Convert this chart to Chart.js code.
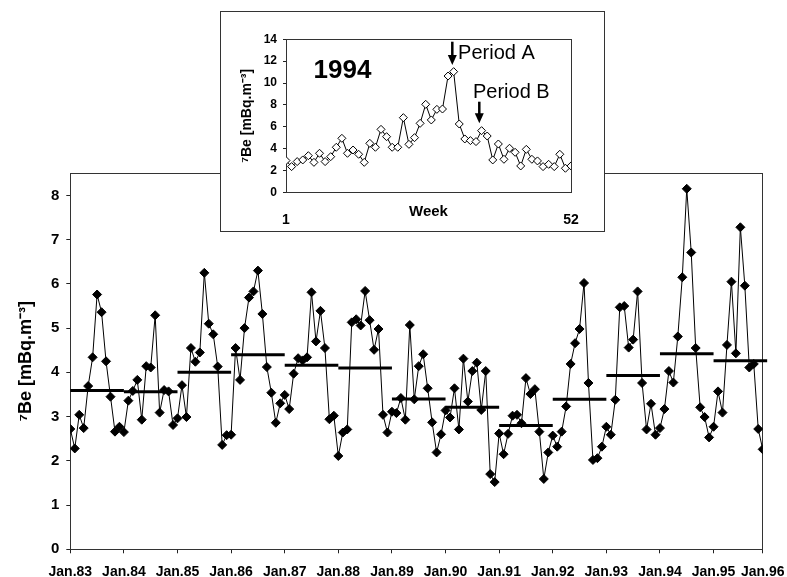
<!DOCTYPE html>
<html><head><meta charset="utf-8">
<script src="https://cdn.jsdelivr.net/npm/chart.js@4/dist/chart.umd.min.js"></script>
<style>
html,body{margin:0;padding:0;background:#fff;}
#wrap{position:relative;width:787px;height:577px;overflow:hidden;background:#fff;}
#main{position:absolute;left:0;top:0;}
#box{position:absolute;left:220px;top:11px;width:383px;height:219px;border:1px solid #333;background:#fff;}
#inset{position:absolute;left:0;top:0;}
</style></head><body>
<div id="wrap"><canvas id="main" width="787" height="577"></canvas>
<div id="box"><canvas id="inset" width="383" height="219"></canvas></div></div>
<script>
// Monthly 7Be concentrations, Jan 1983 .. Dec 1995 (mBq/m3)
const be7_1983 = [2.72, 2.28, 3.04, 2.74, 3.69, 4.34, 5.76, 5.36, 4.25, 3.45, 2.66, 2.77];
const be7_1984 = [2.65, 3.36, 3.58, 3.83, 2.93, 4.14, 4.11, 5.29, 3.09, 3.60, 3.57, 2.81];
const be7_1985 = [2.96, 3.71, 2.99, 4.55, 4.24, 4.45, 6.25, 5.10, 4.86, 4.13, 2.36, 2.58];
const be7_1986 = [2.59, 4.55, 3.83, 5.00, 5.69, 5.83, 6.30, 5.32, 4.12, 3.54, 2.86, 3.30];
const be7_1987 = [3.49, 3.17, 3.97, 4.32, 4.27, 4.34, 5.81, 4.70, 5.39, 4.55, 2.94, 3.02];
const be7_1988 = [2.11, 2.64, 2.71, 5.13, 5.20, 5.06, 5.84, 5.18, 4.51, 4.98, 3.04, 2.64];
const be7_1989 = [3.11, 3.08, 3.42, 2.93, 5.07, 3.39, 4.14, 4.41, 3.64, 2.87, 2.19, 2.60];
const be7_1990 = [3.14, 2.98, 3.64, 2.71, 4.31, 3.34, 4.03, 4.22, 3.15, 4.03, 1.70, 1.52];
const be7_1991 = [2.62, 2.15, 2.61, 3.02, 3.04, 2.85, 3.87, 3.51, 3.62, 2.66, 1.59, 2.19];
const be7_1992 = [2.57, 2.32, 2.66, 3.23, 4.19, 4.66, 4.98, 6.02, 3.76, 2.02, 2.06, 2.32];
const be7_1993 = [2.77, 2.59, 3.38, 5.47, 5.50, 4.56, 4.74, 5.83, 3.76, 2.71, 3.29, 2.59];
const be7_1994 = [2.74, 3.17, 4.03, 3.77, 4.81, 6.15, 8.15, 6.71, 4.55, 3.21, 2.99, 2.53];
const be7_1995 = [2.77, 3.57, 3.09, 4.62, 6.05, 4.43, 7.28, 5.96, 4.11, 4.19, 2.72, 2.26];
// Annual means (horizontal bars)
const annualMeans = [3.59, 3.56, 4.00, 4.40, 4.16, 4.10, 3.40, 3.21, 2.80, 3.39, 3.93, 4.42, 4.26];
// Main x-axis tick labels
const yearLabels = ['Jan.83','Jan.84','Jan.85','Jan.86','Jan.87','Jan.88','Jan.89','Jan.90','Jan.91','Jan.92','Jan.93','Jan.94','Jan.95','Jan.96'];
const mainYTicks = [0,1,2,3,4,5,6,7,8];
// Inset: weekly 7Be in 1994
const weeklyBe7_1994 = [2.90, 2.35, 2.81, 2.96, 3.35, 2.74, 3.57, 2.81, 3.26, 4.12, 4.94, 3.57, 3.87, 3.48, 2.74, 4.48, 4.12, 5.76, 5.09, 4.12, 4.12, 6.83, 4.39, 5.00, 6.31, 8.05, 6.62, 7.59, 7.62, 10.64, 11.04, 6.25, 4.88, 4.73, 4.64, 5.64, 5.15, 2.96, 4.42, 3.02, 4.03, 3.66, 2.41, 3.93, 3.02, 2.87, 2.35, 2.56, 2.35, 3.48, 2.20, 2.41];
const insetXTicks = [1, 52];
const insetYTicks = [0,2,4,6,8,10,12,14];

const FONT = "'Liberation Sans', Arial, Helvetica, sans-serif";
const monthly = [].concat(be7_1983, be7_1984, be7_1985, be7_1986, be7_1987, be7_1988, be7_1989, be7_1990, be7_1991, be7_1992, be7_1993, be7_1994, be7_1995);
const lastIdx = monthly.length - 1;
const xTickPos = yearLabels.map((_, i) => Math.min(i * 12, lastIdx));

const boxPlugin = {
  id: 'plotBox',
  beforeDatasetsDraw(chart) {
    const a = chart.chartArea, ctx = chart.ctx;
    ctx.save();
    ctx.strokeStyle = '#333';
    ctx.lineWidth = 1;
    ctx.strokeRect(Math.round(a.left) + 0.5, Math.round(a.top) + 0.5, Math.round(a.right - a.left), Math.round(a.bottom - a.top));
    ctx.restore();
  }
};

const datasets = [{
  data: monthly.map((v, i) => ({x: i, y: v})),
  borderColor: '#000', borderWidth: 1, backgroundColor: '#000',
  pointStyle: 'rectRot', pointRadius: 4.5, pointBorderWidth: 1,
  pointBackgroundColor: '#000', pointBorderColor: '#000', tension: 0
}];
annualMeans.forEach((m, i) => {
  datasets.push({
    data: [{x: i * 12, y: m}, {x: (i + 1) * 12, y: m}],
    borderColor: '#000', borderWidth: 3, pointRadius: 0, clip: false
  });
});

new Chart(document.getElementById('main'), {
  type: 'line',
  data: {datasets},
  plugins: [boxPlugin],
  options: {
    responsive: false, animation: false, devicePixelRatio: 1,
    layout: {padding: {left: 10.8, right: 24.3, top: 173.3, bottom: 0}},
    plugins: {legend: {display: false}, tooltip: {enabled: false}},
    scales: {
      x: {
        type: 'linear', min: 0, max: lastIdx,
        afterBuildTicks: s => { s.ticks = xTickPos.map(v => ({value: v})); },
        afterFit: s => { s.height = 27.7; s.paddingLeft = 0; s.paddingRight = 0; },
        grid: {display: true, drawOnChartArea: false, tickLength: 4, color: '#222'},
        border: {display: true, color: '#222', width: 1},
        ticks: {autoSkip: false, maxRotation: 0, minRotation: 0, padding: 10, color: '#000',
          font: {family: FONT, size: 14, weight: 'bold'},
          callback: (v, i) => yearLabels[i]}
      },
      y: {
        type: 'linear', min: 0, max: 8.5,
        afterBuildTicks: s => { s.ticks = mainYTicks.map(v => ({value: v})); },
        afterFit: s => { s.width = 59.5; s.paddingTop = 0; s.paddingBottom = 0; },
        grid: {display: true, drawOnChartArea: false, tickLength: 4, color: '#222'},
        border: {display: true, color: '#222', width: 1},
        ticks: {padding: 7, color: '#000', font: {family: FONT, size: 15, weight: 'bold'}},
        title: {display: true, text: '⁷Be [mBq.m⁻³]', color: '#000', padding: {top: 4, bottom: 4},
          font: {family: FONT, size: 18, weight: 'bold'}}
      }
    }
  }
});

// Inset annotations defined in data units (week, value)
const insetNotes = {
  yearText: {text: '1994', x: 11.1, y: 11.1},
  periodA: {text: 'Period A', x: 31.8, y: 12.2, arrowX: 30.76, arrowTop: 13.78, arrowTip: 11.65},
  periodB: {text: 'Period B', x: 34.46, y: 8.6, arrowX: 35.59, arrowTop: 8.29, arrowTip: 6.31}
};

function drawArrow(ctx, x, y0, y1) {
  const headLen = 10, headW = 4.5;
  ctx.beginPath();
  ctx.lineWidth = 2.5;
  ctx.moveTo(x, y0);
  ctx.lineTo(x, y1 - headLen + 1);
  ctx.stroke();
  ctx.beginPath();
  ctx.moveTo(x - headW, y1 - headLen);
  ctx.lineTo(x + headW, y1 - headLen);
  ctx.lineTo(x, y1);
  ctx.closePath();
  ctx.fill();
}

const insetNotesPlugin = {
  id: 'insetNotes',
  afterDatasetsDraw(chart) {
    const ctx = chart.ctx, xs = chart.scales.x, ys = chart.scales.y;
    ctx.save();
    ctx.fillStyle = '#000'; ctx.strokeStyle = '#000';
    const n = insetNotes;
    ctx.font = 'bold 26px ' + FONT;
    ctx.textAlign = 'center'; ctx.textBaseline = 'middle';
    ctx.fillText(n.yearText.text, xs.getPixelForValue(n.yearText.x), ys.getPixelForValue(n.yearText.y));
    ctx.font = '20px ' + FONT;
    ctx.textAlign = 'left'; ctx.textBaseline = 'alphabetic';
    [n.periodA, n.periodB].forEach(p => {
      ctx.fillText(p.text, xs.getPixelForValue(p.x), ys.getPixelForValue(p.y));
      drawArrow(ctx, xs.getPixelForValue(p.arrowX), ys.getPixelForValue(p.arrowTop), ys.getPixelForValue(p.arrowTip));
    });
    ctx.restore();
  }
};

new Chart(document.getElementById('inset'), {
  type: 'line',
  data: {datasets: [{
    data: weeklyBe7_1994.map((v, i) => ({x: i + 1, y: v})),
    borderColor: '#000', borderWidth: 1,
    pointStyle: 'rectRot', pointRadius: 4, pointBorderWidth: 1,
    pointBackgroundColor: '#fff', pointBorderColor: '#000', tension: 0
  }]},
  plugins: [boxPlugin, insetNotesPlugin],
  options: {
    responsive: false, animation: false, devicePixelRatio: 1,
    layout: {padding: {left: 13.3, right: 33, top: 27.3, bottom: 0}},
    plugins: {legend: {display: false}, tooltip: {enabled: false}},
    scales: {
      x: {
        type: 'linear', min: 1, max: 52,
        afterBuildTicks: s => { s.ticks = insetXTicks.map(v => ({value: v})); },
        afterFit: s => { s.height = 38.7; s.paddingLeft = 0; s.paddingRight = 0; },
        grid: {display: false},
        border: {display: true, color: '#222', width: 1},
        ticks: {autoSkip: false, maxRotation: 0, padding: 11.3, color: '#000',
          font: {family: FONT, size: 14, weight: 'bold'}},
        title: {display: true, text: 'Week', color: '#000', padding: {top: 0, bottom: 10},
          font: {family: FONT, size: 15, weight: 'bold'}}
      },
      y: {
        type: 'linear', min: 0, max: 14,
        afterBuildTicks: s => { s.ticks = insetYTicks.map(v => ({value: v})); },
        afterFit: s => { s.width = 51.7; s.paddingTop = 0; s.paddingBottom = 0; },
        grid: {display: true, drawOnChartArea: false, tickLength: 3, color: '#222'},
        border: {display: true, color: '#222', width: 1},
        ticks: {padding: 6, color: '#000', font: {family: FONT, size: 12, weight: 'bold'}},
        title: {display: true, text: '⁷Be [mBq.m⁻³]', color: '#000', padding: {top: 4, bottom: 4},
          font: {family: FONT, size: 14, weight: 'bold'}}
      }
    }
  }
});
</script>
</body></html>
